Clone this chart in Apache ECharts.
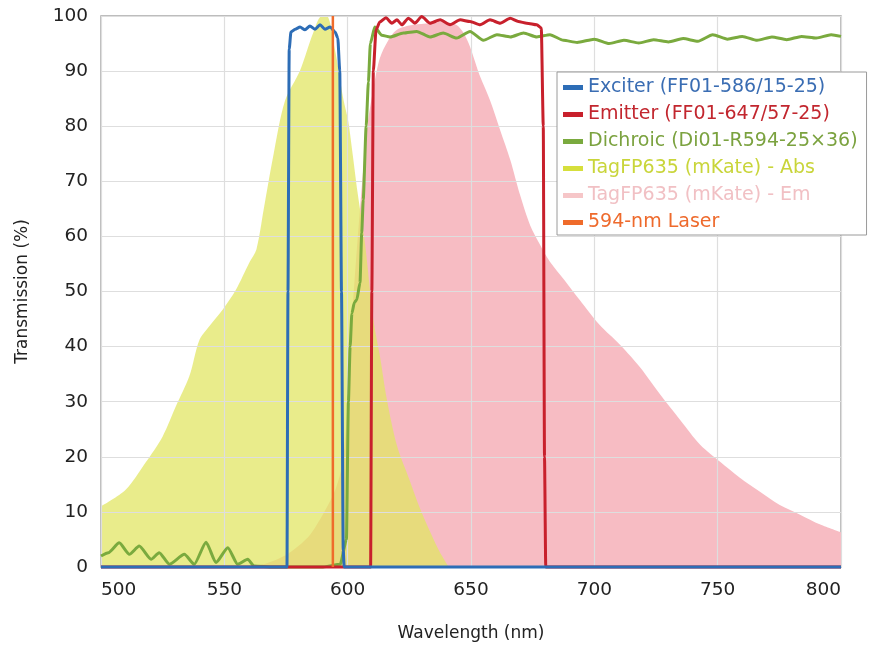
<!DOCTYPE html>
<html>
<head>
<meta charset="utf-8">
<script src="https://cdn.jsdelivr.net/npm/echarts@6/dist/echarts.min.js"></script>
<style>
html,body{margin:0;padding:0;background:#fff;}
#chart{width:874px;height:647px;}
</style>
</head>
<body>
<div id="chart"></div>
<script>
// ---- data (wavelength nm / transmission %) ----
const seriesNames = ['Exciter (FF01-586/15-25)', 'Emitter (FF01-647/57-25)', 'Dichroic (Di01-R594-25\u00d736)', 'TagFP635 (mKate) - Abs', 'TagFP635 (mKate) - Em', '594-nm Laser'];

const excWl = [500, 575.4, 575.8, 576.3, 577, 578.7, 580.7, 582.7, 584.7, 586.8, 588.8, 590.8, 592.9, 594.9, 596, 596.8, 597.5, 598.2, 598.6, 800];
const excT  = [0, 0, 50, 94, 97.1, 97.6, 98.0, 97.5, 98.2, 97.6, 98.4, 97.6, 98.0, 97.1, 96, 90, 50, 3, 0, 0];

const emiWl = [500, 609.3, 609.8, 610.4, 611.5, 613, 615.5, 617.9, 620, 622, 624.6, 627.3, 630, 633.4, 637.5, 641.5, 645.6, 649.6, 653.7, 657.7, 661.8, 665.9, 669.2, 672.6, 676.7, 678.5, 679.3, 679.8, 680.3, 800];
const emiT  = [0, 0, 50, 90, 97.5, 98.9, 99.7, 98.7, 99.3, 98.4, 99.6, 98.7, 99.9, 98.7, 99.3, 98.4, 99.3, 99.0, 98.4, 99.3, 98.7, 99.6, 99.0, 98.7, 98.4, 97.8, 80, 20, 0, 0];

const dicWl = [500, 503, 507.4, 511.5, 515.5, 520.3, 523.6, 527.7, 533.8, 537.8, 542.6, 546.6, 551.4, 555.4, 559.5, 562, 570, 590, 597, 599.5, 600.3, 601, 601.7, 602.7, 603.7, 605, 605.7, 606.3, 607.5, 608.4, 609.2, 611, 613.8, 617.2, 622.6, 628, 633.4, 638.7, 644.2, 649.6, 655, 660.5, 665.9, 671.3, 676.7, 682, 687.5, 693, 700, 706, 712, 718, 724, 730, 736, 742, 748, 754, 760, 766, 772, 778, 784, 790, 796, 800];
const dicT  = [2.0, 2.6, 4.4, 2.3, 3.8, 1.4, 2.6, 0.5, 2.3, 0.5, 4.5, 0.8, 3.5, 0.5, 1.4, 0.2, 0, 0, 0.5, 5, 30, 40, 46, 48, 48.5, 51.6, 60.6, 66.6, 80, 88, 95, 98, 96.5, 96.2, 96.9, 97.2, 96.2, 96.9, 96.0, 97.2, 95.6, 96.6, 96.2, 96.9, 96.2, 96.6, 95.6, 95.2, 95.8, 95.0, 95.6, 95.1, 95.7, 95.3, 95.9, 95.4, 96.6, 95.8, 96.3, 95.6, 96.2, 95.7, 96.3, 96.0, 96.6, 96.3];

const absWl = [500, 510, 518, 525, 530.4, 535.8, 539.9, 543.9, 549.3, 554.7, 560.1, 563, 566, 570, 574.6, 580.7, 586, 589.5, 591.5, 594.9, 598.3, 600.2, 602, 604, 607, 610.4, 613.1, 615.9, 620, 625, 629, 633, 637, 641];
const absT  = [11.0, 14.0, 18.9, 23.7, 29.2, 34.6, 41.2, 43.7, 46.7, 50.3, 55.2, 57.6, 65, 75, 84.6, 90.1, 96.9, 100, 100, 93.8, 84.8, 81, 75, 68, 58.8, 44.9, 38.2, 30.4, 22, 15.9, 11, 6.8, 3, 0];

const emWl = [562, 568, 575, 580, 585, 591, 595, 598, 600, 602, 605, 608, 610.5, 613, 616.5, 620, 626.5, 633.4, 638, 644, 647, 649.6, 652.3, 653.7, 657.7, 661.8, 665.9, 669.9, 674, 678, 682, 688, 694, 702, 710.5, 718.6, 726.7, 734.8, 742.9, 751, 759, 767, 775, 783.4, 791.6, 800];
const emT  = [0, 0.8, 2.2, 3.8, 6, 10.4, 14, 19, 30, 46.7, 65, 80, 87, 92.3, 95.6, 97.5, 98.4, 98.7, 99, 98.4, 96.9, 94.4, 90.8, 89, 84.7, 79.3, 73.9, 67.5, 62, 58.5, 55.4, 52, 48.5, 44, 40.3, 36.2, 31.3, 26.7, 22.2, 19.1, 16.2, 13.7, 11.3, 9.5, 7.7, 6.3];

const laserWl = [594, 594];
const laserT  = [0, 100];

const xTicks = [500, 550, 600, 650, 700, 750, 800];
const yTicks = [0, 10, 20, 30, 40, 50, 60, 70, 80, 90, 100];

// ---- chart ----
const zip = (xs, ys) => xs.map((x, i) => [x, ys[i]]);
const FONT = "'DejaVu Sans', sans-serif";

const lineColors = ['#2d6db6', '#c8202c', '#7aaa3e', '#d6df3c', '#f6c6c8', '#ef6b2b'];
const textColors = ['#3a6db3', '#c2262e', '#7ba23f', '#c9d53a', '#f1c0c4', '#ee6a2c'];

const chart = echarts.init(document.getElementById('chart'), null, {renderer: 'canvas'});

function lineSeries(i, data, width, z) {
  return {
    name: seriesNames[i], type: 'line', data: data, showSymbol: false, symbol: 'none',
    smooth: 0.2, smoothMonotone: 'x', clip: false, z: z,
    itemStyle: {color: lineColors[i]},
    lineStyle: {color: lineColors[i], width: width}
  };
}
function areaSeries(i, data, fill, z) {
  return {
    name: seriesNames[i], type: 'line', data: data, showSymbol: false, symbol: 'none',
    smooth: 0.3, z: z,
    itemStyle: {color: lineColors[i]},
    lineStyle: {width: 0, color: fill},
    areaStyle: {color: fill, opacity: 1}
  };
}

chart.setOption({
  animation: false,
  backgroundColor: '#fff',
  textStyle: {fontFamily: FONT},
  grid: {left: 101, right: 33, top: 16, bottom: 79, show: true, borderColor: '#a8a8a8', borderWidth: 1.5, backgroundColor: 'transparent'},
  xAxis: {
    type: 'value', min: xTicks[0], max: xTicks[xTicks.length - 1], interval: 50, z: 3,
    name: 'Wavelength (nm)', nameLocation: 'middle', nameGap: 58,
    nameTextStyle: {color: '#222', fontSize: 17, fontFamily: FONT},
    axisLine: {show: false}, axisTick: {show: false},
    axisLabel: {color: '#222', fontSize: 18.5, fontFamily: FONT, margin: 14, alignMinLabel: 'left', alignMaxLabel: 'right'},
    splitLine: {show: true, lineStyle: {color: '#dedede', width: 1.2}}
  },
  yAxis: {
    type: 'value', min: yTicks[0], max: yTicks[yTicks.length - 1], interval: 10, z: 3,
    name: 'Transmission (%)', nameLocation: 'middle', nameGap: 70,
    nameTextStyle: {color: '#222', fontSize: 17, fontFamily: FONT},
    axisLine: {show: false}, axisTick: {show: false},
    axisLabel: {color: '#222', fontSize: 18.5, fontFamily: FONT, margin: 13},
    splitLine: {show: true, lineStyle: {color: '#dedede', width: 1.2}}
  },
  legend: {
    orient: 'vertical', left: 557, top: 72,
    backgroundColor: '#fff', borderColor: '#9a9a9a', borderWidth: 1,
    padding: [5, 9, 2, 6], itemGap: 6, itemWidth: 20, itemHeight: 5,
    icon: 'rect', selectedMode: false,
    textStyle: {fontSize: 19, fontFamily: FONT, lineHeight: 21},
    data: seriesNames.map((n, i) => ({name: n, icon: 'rect', itemStyle: {color: lineColors[i]}, textStyle: {color: textColors[i]}}))
  },
  series: [
    lineSeries(0, zip(excWl, excT), 3, 8),
    lineSeries(1, zip(emiWl, emiT), 3, 6),
    lineSeries(2, zip(dicWl, dicT), 3, 5),
    areaSeries(3, zip(absWl, absT), 'rgba(225,230,100,0.75)', 2),
    areaSeries(4, zip(emWl, emT), '#f7bcc3', 1),
    {
      name: seriesNames[5], type: 'line', data: zip(laserWl, laserT), showSymbol: false, symbol: 'none', z: 9,
      itemStyle: {color: lineColors[5]}, lineStyle: {color: lineColors[5], width: 2.5}
    }
  ]
});
</script>
</body>
</html>
